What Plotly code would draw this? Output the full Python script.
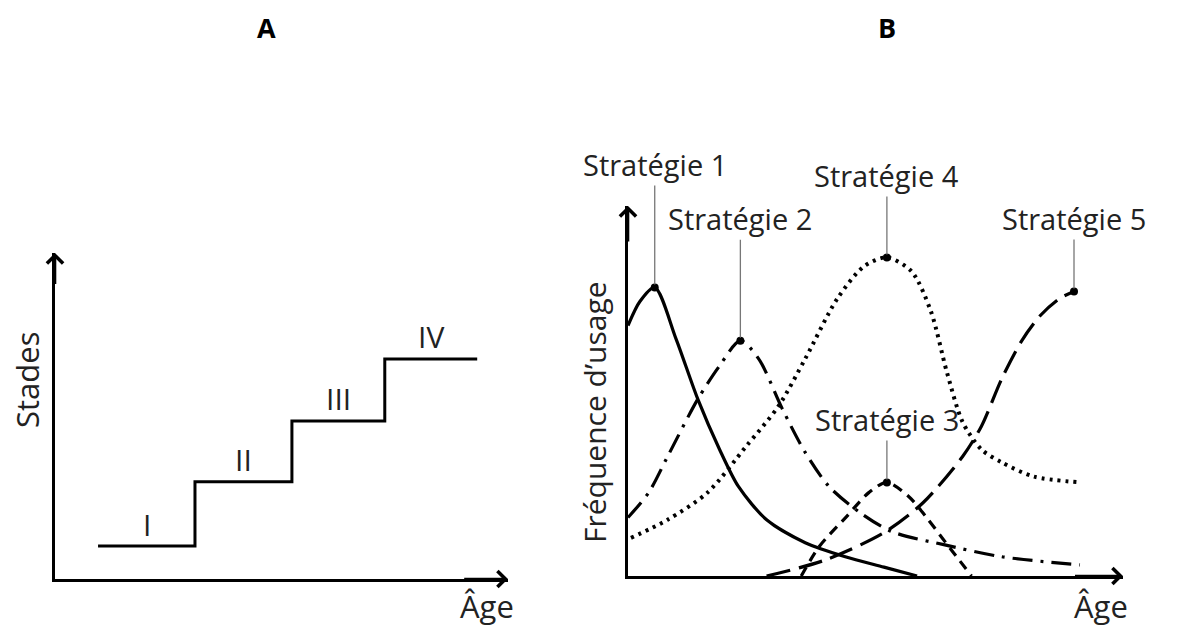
import plotly.graph_objects as go

W, H = 1187, 628
FONT = "Open Sans"

# ---------- Panel A data (stages) ----------
stage_x = [0.95, 3.09, 5.23, 7.28, 9.32]      # step breakpoints (age units)
stage_y = [1.01, 2.98, 4.85, 6.75, 6.75]      # stage level
stage_labels = ["I", "II", "III", "IV"]

# ---------- Panel B data (strategies) ----------
s1_x = [0.0, 0.24, 0.54, 0.97, 1.41, 1.85, 2.23, 2.80, 3.58, 4.39, 5.17, 5.84]
s1_y = [6.77, 7.42, 7.80, 6.41, 4.78, 3.42, 2.42, 1.52, 0.90, 0.52, 0.24, 0.0]

s2_x = [0.0, 0.42, 0.80, 1.41, 1.85, 2.27, 2.64, 3.12, 3.58, 4.06, 4.69, 5.33, 6.40, 7.55, 9.13]
s2_y = [1.58, 2.26, 3.23, 4.78, 5.68, 6.36, 5.87, 4.51, 3.34, 2.42, 1.71, 1.20, 0.84, 0.52, 0.30]

s3_x = [3.50, 3.86, 4.41, 4.87, 5.23, 5.67, 6.02, 6.42, 6.94]
s3_y = [0.0, 0.79, 1.60, 2.26, 2.53, 2.15, 1.60, 0.90, 0.0]

s4_x = [0.06, 0.80, 1.61, 2.39, 3.04, 3.58, 4.23, 4.77, 5.23, 5.73, 6.12, 6.44, 6.76, 7.14, 7.55, 8.19, 9.13]
s4_y = [1.03, 1.52, 2.26, 3.51, 4.59, 5.87, 7.50, 8.37, 8.61, 8.23, 7.15, 5.52, 4.16, 3.42, 3.07, 2.69, 2.53]

s5_x = [2.80, 3.98, 5.17, 5.96, 6.76, 7.14, 7.55, 7.95, 8.33, 8.72, 9.01]
s5_y = [0.0, 0.43, 1.17, 1.98, 3.23, 4.05, 5.33, 6.35, 7.04, 7.50, 7.69]

strategy_names = ["Stratégie 1", "Stratégie 2", "Stratégie 3", "Stratégie 4", "Stratégie 5"]
strategy_dash = ["solid", "20px,8px,3px,8px", "10px,7px", "3px,5px", "24px,9px"]
strategy_width = [3.2, 3.2, 3.2, 4, 3.2]
label_offset = [-123, -122, -63, -82, -73]   # leader length in px (text above marker)

series = [(s1_x, s1_y), (s2_x, s2_y), (s3_x, s3_y), (s4_x, s4_y), (s5_x, s5_y)]

fig = go.Figure()

# Panel A step line
fig.add_trace(go.Scatter(x=stage_x, y=stage_y, mode="lines", line=dict(color="black", width=3, shape="hv"),
                         xaxis="x", yaxis="y", hoverinfo="skip"))

annotations = []
for i, lab_ in enumerate(stage_labels):
    cx = (stage_x[i] + stage_x[i + 1]) / 2
    annotations.append(dict(x=cx, y=stage_y[i], xref="x", yref="y", text=lab_, showarrow=False,
                            xanchor="center", yanchor="middle",
                            yshift=22, font=dict(family=FONT, size=30, color="#222")))

# Panel B curves
for (xs, ys), dash, lw in zip(series, strategy_dash, strategy_width):
    fig.add_trace(go.Scatter(x=xs, y=ys, mode="lines",
                             line=dict(color="black", width=lw, dash=dash, shape="spline", smoothing=0.8),
                             xaxis="x2", yaxis="y2", hoverinfo="skip"))

# peak markers + labels
peak_x, peak_y = [], []
for (xs, ys) in series:
    k = ys.index(max(ys))
    peak_x.append(xs[k]); peak_y.append(ys[k])
fig.add_trace(go.Scatter(x=peak_x, y=peak_y, mode="markers", marker=dict(color="black", size=8),
                         xaxis="x2", yaxis="y2", hoverinfo="skip"))

for name, px, py, off in zip(strategy_names, peak_x, peak_y, label_offset):
    annotations.append(dict(x=px, y=py, xref="x2", yref="y2", text=name, showarrow=True,
                            arrowhead=0, arrowwidth=1.3, arrowcolor="#777", ax=0, ay=off,
                            standoff=3, font=dict(family=FONT, size=29, color="#222")))

# axis arrows
for xr, yr, tipx, tipy, tailx, taily in [("x", "y", 10, 0, 9, 0), ("x", "y", 0, 10, 0, 9),
                                         ("x2", "y2", 10, 0, 9, 0), ("x2", "y2", 0, 10, 0, 9)]:
    annotations.append(dict(x=tipx, y=tipy, ax=tailx, ay=taily, xref=xr, yref=yr, axref=xr, ayref=yr,
                            text="", showarrow=True, arrowhead=4, arrowsize=1.2, arrowwidth=2.6,
                            arrowcolor="black"))

# titles / axis labels
def lab(px, py, text, size, angle=0, color="#222"):
    return dict(x=px / W, y=1 - py / H, xref="paper", yref="paper", text=text, showarrow=False,
                xanchor="center", yanchor="middle", textangle=angle,
                font=dict(family=FONT, size=size, color=color))

annotations += [
    lab(266, 28, "<b>A</b>", 27, color="black"),
    lab(887, 28, "<b>B</b>", 27, color="black"),
    lab(27, 380, "Stades", 31, angle=-90),
    lab(594, 412, "Fréquence d’usage", 30, angle=-90),
    lab(487, 606, "Âge", 31),
    lab(1101, 606, "Âge", 31),
]

ax_common = dict(showgrid=False, zeroline=False, showticklabels=False, ticks="", showline=True,
                 linecolor="black", linewidth=3, fixedrange=True)

fig.update_layout(
    width=W, height=H, margin=dict(l=0, r=0, t=0, b=0),
    paper_bgcolor="white", plot_bgcolor="white", showlegend=False,
    xaxis=dict(domain=[55 / W, 508 / W], range=[0, 10], anchor="y", **ax_common),
    yaxis=dict(domain=[1 - 579 / H, 1 - 253 / H], range=[0, 10], anchor="x", **ax_common),
    xaxis2=dict(domain=[628 / W, 1123 / W], range=[0, 10], anchor="y2", **ax_common),
    yaxis2=dict(domain=[1 - 576 / H, 1 - 206 / H], range=[0, 10], anchor="x2", **ax_common),
    annotations=annotations,
)

fig.write_html("out.html", config={"displayModeBar": False},
               post_script="document.body.style.margin='0';document.body.style.overflow='hidden';")
